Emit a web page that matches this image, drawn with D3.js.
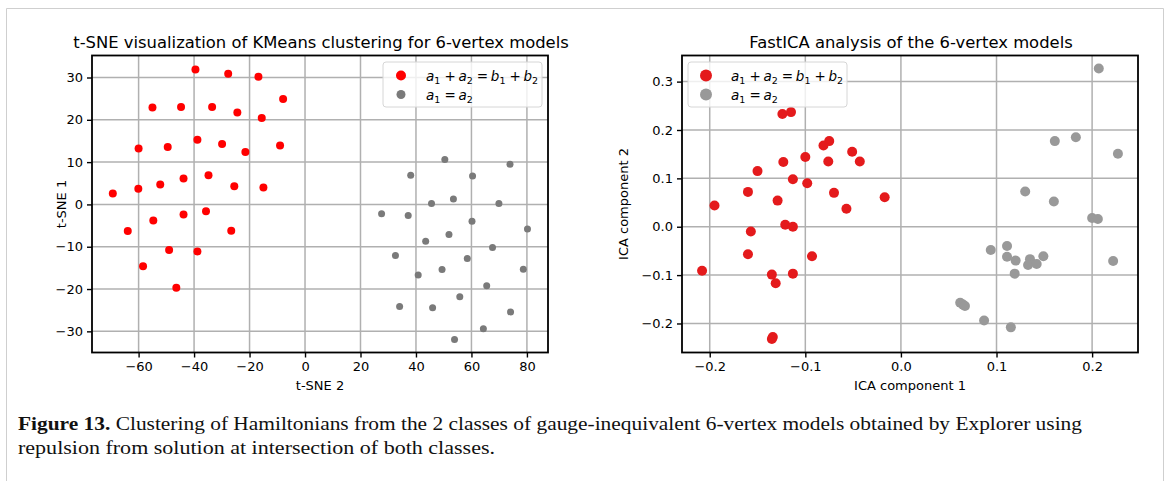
<!DOCTYPE html>
<meta charset="utf-8">
<head>
	<script src="https://cdn.jsdelivr.net/npm/d3@7"></script>
	<style>
		body { margin: 0; background: #fff; }
		text { font-family: "DejaVu Sans", sans-serif; }
	</style>
</head>
<body>
<div id="svg-container"></div>
<script>

////////////////////////////////////
// DATA
////////////////////////////////////

// t-SNE panel, class a1 + a2 = b1 + b2  [tSNE 2, tSNE 1]
const tsneRed = [
	[-39.5, 31.9], [-27.7, 30.9], [-16.8, 30.2], [-7.9, 24.9], [-55, 22.9], [-44.7, 23],
	[-33.5, 23], [-24.4, 21.7], [-15.6, 20.4], [-60, 13.2], [-49.5, 13.6], [-38.8, 15.3],
	[-29.9, 14.3], [-21.5, 12.4], [-9, 13.9], [-34.8, 6.9], [-43.8, 6.1], [-52.2, 4.7],
	[-60.1, 3.7], [-69.3, 2.6], [-25.5, 4.3], [-15, 4.0], [-43.8, -2.4], [-35.7, -1.6],
	[-54.7, -3.8], [-63.9, -6.3], [-26.6, -6.2], [-49, -10.8], [-38.8, -11.1], [-58.4, -14.6],
	[-46.4, -19.7]
]

// t-SNE panel, class a1 = a2
const tsneGray = [
	[50.4, 10.6], [73.9, 9.5], [38.1, 6.9], [60.4, 6.7], [45.6, 0.2], [53.5, 1.3],
	[69.9, 0.2], [27.6, -2.2], [37.2, -2.6], [60.2, -4.0], [80.2, -5.8], [51.9, -7.1],
	[43.5, -8.7], [67.6, -10.2], [32.6, -12.1], [58.5, -12.8], [49.4, -15.4], [78.7, -15.3],
	[40.8, -16.7], [65.5, -19.2], [55.8, -21.8], [34.1, -24.1], [46, -24.4], [74.1, -25.4],
	[64.3, -29.4], [53.9, -31.9]
]

// FastICA panel, class a1 + a2 = b1 + b2  [component 1, component 2]
const icaRed = [
	[-0.124, 0.233], [-0.115, 0.237], [-0.075, 0.177], [-0.081, 0.168], [-0.051, 0.155],
	[-0.100, 0.144], [-0.123, 0.134], [-0.076, 0.135], [-0.043, 0.135], [-0.150, 0.115],
	[-0.113, 0.098], [-0.098, 0.090], [-0.160, 0.072], [-0.070, 0.070], [-0.129, 0.054],
	[-0.195, 0.044], [-0.017, 0.061], [-0.057, 0.037], [-0.121, 0.004], [-0.113, 0.000],
	[-0.157, -0.010], [-0.160, -0.057], [-0.093, -0.061], [-0.208, -0.091], [-0.135, -0.099],
	[-0.113, -0.097], [-0.131, -0.117], [-0.134, -0.228], [-0.135, -0.232]
]

// FastICA panel, class a1 = a2
const icaGray = [
	[0.207, 0.327], [0.183, 0.185], [0.161, 0.177], [0.227, 0.151], [0.130, 0.073],
	[0.160, 0.052], [0.200, 0.018], [0.206, 0.016], [0.111, -0.040], [0.094, -0.048],
	[0.111, -0.062], [0.120, -0.070], [0.135, -0.067], [0.149, -0.061], [0.133, -0.079],
	[0.142, -0.077], [0.119, -0.097], [0.222, -0.071], [0.062, -0.157], [0.065, -0.161],
	[0.067, -0.164], [0.087, -0.194], [0.115, -0.208]
]

const tsneXTicks = [-60, -40, -20, 0, 20, 40, 60, 80]
const tsneYTicks = [-30, -20, -10, 0, 10, 20, 30]
const icaXTicks = [-0.2, -0.1, 0.0, 0.1, 0.2]
const icaYTicks = [-0.2, -0.1, 0.0, 0.1, 0.2, 0.3]

const captionLines = [
	['Figure 13.', ' Clustering of Hamiltonians from the 2 classes of gauge-inequivalent 6-vertex models obtained by Explorer using'],
	['', 'repulsion from solution at intersection of both classes.']
]

////////////////////////////////////
// SETUP
////////////////////////////////////

const W = 1168, H = 481
const svg = d3.select('#svg-container').append('svg')
	.attr('width', W)
	.attr('height', H)

// outer frame of the figure box
svg.append('path')
	.attr('d', `M6.5,${H} V8.5 H1163.5 V${H}`)
	.attr('fill', 'none')
	.attr('stroke', '#cfcfcf')
	.attr('stroke-width', 1)

////////////////////////////////////
// PANEL
////////////////////////////////////

function drawPanel(p) {
	const x = d3.scaleLinear().domain(p.xDomain).range([p.left, p.right])
	const y = d3.scaleLinear().domain(p.yDomain).range([p.bottom, p.top])
	const g = svg.append('g')

	// grid
	g.append('g').selectAll('line')
		.data(p.xTicks)
		.enter().append('line')
		.attr('x1', d => x(d)).attr('x2', d => x(d))
		.attr('y1', p.top).attr('y2', p.bottom)
		.attr('stroke', '#b0b0b0').attr('stroke-width', 1.5)
	g.append('g').selectAll('line')
		.data(p.yTicks)
		.enter().append('line')
		.attr('y1', d => y(d)).attr('y2', d => y(d))
		.attr('x1', p.left).attr('x2', p.right)
		.attr('stroke', '#b0b0b0').attr('stroke-width', 1.5)

	// points
	g.append('g').selectAll('circle')
		.data(p.redPts)
		.enter().append('circle')
		.attr('cx', d => x(d[0]))
		.attr('cy', d => y(d[1]))
		.attr('r', p.rRed)
		.attr('fill', p.red)
	g.append('g').selectAll('circle')
		.data(p.grayPts)
		.enter().append('circle')
		.attr('cx', d => x(d[0]))
		.attr('cy', d => y(d[1]))
		.attr('r', p.rGray)
		.attr('fill', p.gray)

	// axes
	const xAxis = g.append('g')
		.attr('transform', `translate(0,${p.bottom})`)
		.call(d3.axisBottom(x).tickValues(p.xTicks).tickFormat(p.fmt).tickSizeOuter(0).tickSize(5).tickPadding(4))
	const yAxis = g.append('g')
		.attr('transform', `translate(${p.left},0)`)
		.call(d3.axisLeft(y).tickValues(p.yTicks).tickFormat(p.fmt).tickSizeOuter(0).tickSize(5).tickPadding(4))
	;[xAxis, yAxis].forEach(a => {
		a.select('.domain').remove()
		a.selectAll('line').attr('stroke', '#000').attr('stroke-width', 1.4)
		a.selectAll('text')
			.attr('fill', '#000')
			.style('font-size', '13px')
			.style('font-family', '"DejaVu Sans", sans-serif')
	})

	// spines
	g.append('rect')
		.attr('x', p.left).attr('y', p.top)
		.attr('width', p.right - p.left).attr('height', p.bottom - p.top)
		.attr('fill', 'none')
		.attr('stroke', '#000')
		.attr('stroke-width', 1.8)

	// titles + labels
	const cx = (p.left + p.right) / 2
	g.append('text')
		.attr('x', cx + 1).attr('y', 48)
		.attr('text-anchor', 'middle')
		.style('font-size', '16.4px')
		.text(p.title)
	g.append('text')
		.attr('x', cx).attr('y', 390)
		.attr('text-anchor', 'middle')
		.style('font-size', '13px')
		.text(p.xLabel)
	g.append('text')
		.attr('transform', `translate(${p.yLabelX},${(p.top + p.bottom) / 2}) rotate(-90)`)
		.attr('text-anchor', 'middle')
		.style('font-size', '13px')
		.text(p.yLabel)

	// legend
	const lg = g.append('g').attr('transform', `translate(${p.legX},62)`)
	lg.append('rect')
		.attr('width', 159).attr('height', 45)
		.attr('rx', 3)
		.attr('fill', 'rgba(255,255,255,0.8)')
		.attr('stroke', '#d6d6d6')
		.attr('stroke-width', 1)
	lg.append('circle').attr('cx', 18).attr('cy', 13.5).attr('r', p.rRed + 1).attr('fill', p.red)
	lg.append('circle').attr('cx', 18).attr('cy', 32.5).attr('r', p.rGray + 1).attr('fill', p.gray)

	mathLabel(lg.append('text').attr('x', 43).attr('y', 18.5),
		[['a', '1'], ' + ', ['a', '2'], ' = ', ['b', '1'], ' + ', ['b', '2']])
	mathLabel(lg.append('text').attr('x', 43).attr('y', 37.5),
		[['a', '1'], ' = ', ['a', '2']])
}

// italic symbol with subscript, matplotlib mathtext look
function mathLabel(t, parts) {
	t.style('font-size', '13.5px')
	parts.forEach(part => {
		if (typeof part === 'string') {
			t.append('tspan').text(part.replace(/ /g, '\u2009'))
		} else {
			t.append('tspan').style('font-style', 'italic').text(part[0])
			t.append('tspan').attr('dy', 3).style('font-size', '9.5px').text(part[1])
			t.append('tspan').attr('dy', -3).text('\u200a')
		}
	})
}

drawPanel({
	left: 92, right: 548, top: 55.5, bottom: 352.5,
	xDomain: [-76.8, 87.6], yDomain: [-35, 35.2],
	xTicks: tsneXTicks, yTicks: tsneYTicks,
	fmt: d3.format('d'),
	redPts: tsneRed, grayPts: tsneGray,
	red: '#ff0000', gray: '#7a7a7a', rRed: 4, rGray: 3.5,
	title: 't-SNE visualization of KMeans clustering for 6-vertex models',
	xLabel: 't-SNE 2', yLabel: 't-SNE 1', yLabelX: 66,
	legX: 383
})

drawPanel({
	left: 682, right: 1138, top: 55.5, bottom: 352.5,
	xDomain: [-0.229, 0.248], yDomain: [-0.26, 0.354],
	xTicks: icaXTicks, yTicks: icaYTicks,
	fmt: d3.format('.1f'),
	redPts: icaRed, grayPts: icaGray,
	red: '#e41a1c', gray: '#999999', rRed: 5, rGray: 5,
	title: 'FastICA analysis of the 6-vertex models',
	xLabel: 'ICA component 1', yLabel: 'ICA component 2', yLabelX: 628,
	legX: 688
})

////////////////////////////////////
// CAPTION
////////////////////////////////////

const capLens = [1064, 477]
captionLines.forEach((line, i) => {
	const t = svg.append('text')
		.attr('x', 18)
		.attr('y', 430 + i * 24)
		.attr('textLength', capLens[i])
		.attr('lengthAdjust', 'spacingAndGlyphs')
		.style('font-family', '"Liberation Serif", serif')
		.style('font-size', '19px')
		.attr('fill', '#111')
	if (line[0]) t.append('tspan').style('font-weight', 'bold').text(line[0])
	t.append('tspan').text(line[1])
})

</script>
</body>
